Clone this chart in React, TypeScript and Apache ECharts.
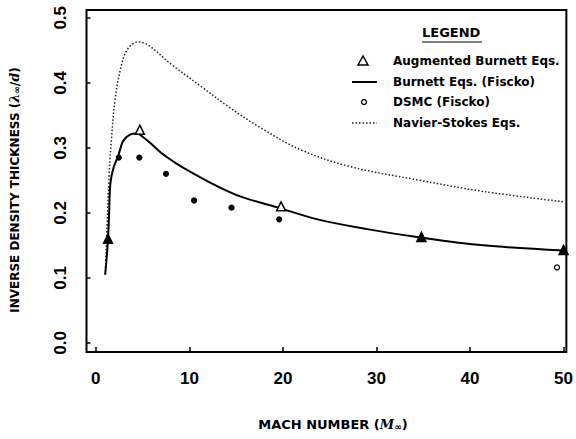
import { useEffect, useRef } from "react";
import * as echarts from "echarts";

// Axis tick positions
const machTicks = [0, 10, 20, 30, 40, 50];
const thicknessTicks = [0, 0.1, 0.2, 0.3, 0.4, 0.5];

const seriesNames = [
  "Augmented Burnett Eqs.",
  "Burnett Eqs. (Fiscko)",
  "DSMC (Fiscko)",
  "Navier-Stokes Eqs.",
];

// Augmented Burnett solutions (triangles)
const augmentedMach = [1.3, 4.7, 19.8, 34.8, 50];
const augmentedThickness = [0.16, 0.328, 0.21, 0.163, 0.143];
const augmentedFilled = [true, false, false, true, true];

// Burnett equations, Fiscko (solid curve)
const burnettMach = [1.0, 1.15, 1.3, 1.42, 1.55, 1.9, 2.4, 2.9, 3.6, 4.4, 5.0, 6.0, 7.0, 8.5, 10, 12.7, 15.5, 19.5, 23.7, 29, 34.7, 41.4, 50];
const burnettThickness = [0.105, 0.13, 0.16, 0.2, 0.245, 0.27, 0.288, 0.31, 0.32, 0.322, 0.317, 0.305, 0.292, 0.277, 0.264, 0.243, 0.225, 0.208, 0.19, 0.175, 0.162, 0.15, 0.142];

// DSMC, Fiscko (circles)
const dsmcMach = [2.45, 4.65, 7.5, 10.5, 14.5, 19.6, 34.8, 49.3];
const dsmcThickness = [0.285, 0.285, 0.26, 0.219, 0.208, 0.19, 0.16, 0.116];
const dsmcOpen = [false, false, false, false, false, false, false, true];

// Navier-Stokes equations (dotted curve)
const nsMach = [1.0, 1.2, 1.4, 1.65, 2.05, 2.7, 3.4, 4.5, 5.6, 8.1, 11.3, 14.1, 17.7, 21.9, 27.2, 34.3, 41.4, 50];
const nsThickness = [0.105, 0.18, 0.255, 0.31, 0.374, 0.425, 0.452, 0.463, 0.458, 0.428, 0.394, 0.364, 0.33, 0.297, 0.271, 0.251, 0.233, 0.217];

const zip = (xs: number[], ys: number[]) => xs.map((x, i) => [x, ys[i]]);

const LABEL_FONT = "Liberation Sans";
const TEXT_FONT = "DejaVu Sans";

export default function App() {
  const ref = useRef<HTMLDivElement>(null);

  useEffect(() => {
    if (!ref.current) return;
    const chart = echarts.init(ref.current, undefined, { renderer: "svg" });

    const nameRich = {
      i: { fontFamily: "DejaVu Serif", fontStyle: "italic", fontWeight: "bold", fontSize: 13, color: "#000" },
      s: { fontFamily: TEXT_FONT, fontWeight: "bold", fontSize: 9, color: "#000", verticalAlign: "bottom", padding: [5, 0, 0, 0] },
    };

    const legendX = 393;
    const legendRows = [61, 82, 102, 123];

    const option: any = {
      animation: false,
      backgroundColor: "#fff",
      grid: {
        left: 85,
        right: 8,
        top: 10,
        bottom: 87,
        show: true,
        borderColor: "#000",
        borderWidth: 2,
      },
      xAxis: {
        type: "value",
        min: -1,
        max: 50.3,
        axisLine: { show: false, onZero: false },
        axisTick: {
          show: true,
          inside: true,
          length: 5,
          customValues: machTicks,
          lineStyle: { color: "#000", width: 1.5 },
        },
        axisLabel: {
          customValues: machTicks,
          margin: 18,
          color: "#000",
          fontFamily: LABEL_FONT,
          fontWeight: "bold",
          fontSize: 17,
        },
        splitLine: { show: false },
        name: "MACH NUMBER ({i|M}{s|∞})",
        nameLocation: "middle",
        nameGap: 65,
        nameTextStyle: {
          fontFamily: TEXT_FONT,
          fontWeight: "bold",
          fontSize: 13,
          color: "#000",
          padding: [0, 0, 0, 13],
          rich: nameRich,
        },
      },
      yAxis: {
        type: "value",
        min: -0.014,
        max: 0.512,
        axisLine: { show: false, onZero: false },
        axisTick: {
          show: true,
          inside: true,
          length: 4,
          customValues: thicknessTicks,
          lineStyle: { color: "#000", width: 1.5 },
        },
        axisLabel: {
          customValues: thicknessTicks,
          rotate: 90,
          margin: 18,
          color: "#000",
          fontFamily: LABEL_FONT,
          fontWeight: "bold",
          fontSize: 17,
          formatter: (v: number) => v.toFixed(1),
        },
        splitLine: { show: false },
        name: "INVERSE DENSITY THICKNESS ({i|λ}{s|∞}/{i|d})",
        nameLocation: "middle",
        nameRotate: 90,
        nameGap: 65,
        nameTextStyle: {
          fontFamily: TEXT_FONT,
          fontWeight: "bold",
          fontSize: 12,
          color: "#000",
          padding: [0, 18, 0, 0],
          rich: nameRich,
        },
      },
      series: [
        {
          name: seriesNames[3],
          type: "line",
          data: zip(nsMach, nsThickness),
          smooth: 0.35,
          symbol: "none",
          lineStyle: { color: "#222", width: 1.5, type: [1.5, 2] },
          z: 2,
        },
        {
          name: seriesNames[1],
          type: "line",
          data: zip(burnettMach, burnettThickness),
          smooth: 0.35,
          symbol: "none",
          lineStyle: { color: "#000", width: 2 },
          z: 3,
        },
        {
          name: seriesNames[0],
          type: "scatter",
          symbol: "triangle",
          symbolSize: 9,
          data: augmentedMach.map((m, i) => ({
            value: [m, augmentedThickness[i]],
            itemStyle: { color: augmentedFilled[i] ? "#000" : "#fff" },
          })),
          itemStyle: { color: "#fff", borderColor: "#000", borderWidth: 1.5, opacity: 1 },
          z: 4,
        },
        {
          name: seriesNames[2],
          type: "scatter",
          symbol: "circle",
          symbolSize: 5,
          data: dsmcMach.map((m, i) => ({
            value: [m, dsmcThickness[i]],
            itemStyle: { color: dsmcOpen[i] ? "#fff" : "#000" },
          })),
          itemStyle: { color: "#000", borderColor: "#000", borderWidth: 1.2, opacity: 1 },
          z: 5,
        },
      ],
      graphic: [
        {
          type: "text",
          left: 422,
          top: 26,
          style: { text: "LEGEND", fontFamily: TEXT_FONT, fontWeight: "bold", fontSize: 13, fill: "#000" },
        },
        {
          type: "line",
          shape: { x1: 422, y1: 42, x2: 482, y2: 42 },
          style: { stroke: "#000", lineWidth: 1.2 },
        },
        {
          type: "polygon",
          shape: { points: [[363, legendRows[0] - 5], [358, legendRows[0] + 4], [368, legendRows[0] + 4]] },
          style: { fill: "#fff", stroke: "#000", lineWidth: 1.5 },
        },
        {
          type: "line",
          shape: { x1: 352, y1: legendRows[1], x2: 377, y2: legendRows[1] },
          style: { stroke: "#000", lineWidth: 2 },
        },
        {
          type: "circle",
          shape: { cx: 364, cy: legendRows[2], r: 2.5 },
          style: { fill: "#fff", stroke: "#000", lineWidth: 1.3 },
        },
        {
          type: "line",
          shape: { x1: 352, y1: legendRows[3], x2: 377, y2: legendRows[3] },
          style: { stroke: "#222", lineWidth: 1.5, lineDash: [1.5, 2] },
        },
        ...seriesNames.map((n, i) => ({
          type: "text",
          x: legendX,
          y: legendRows[i],
          style: {
            text: n,
            fontFamily: TEXT_FONT,
            fontWeight: "bold",
            fontSize: 12,
            fill: "#000",
            verticalAlign: "middle",
            textAlign: "left",
          },
        })),
      ],
    };

    chart.setOption(option);
    return () => chart.dispose();
  }, []);

  return (
    <div
      ref={ref}
      style={{ position: "fixed", left: 0, top: 0, width: 576, height: 439, background: "#fff" }}
    />
  );
}
